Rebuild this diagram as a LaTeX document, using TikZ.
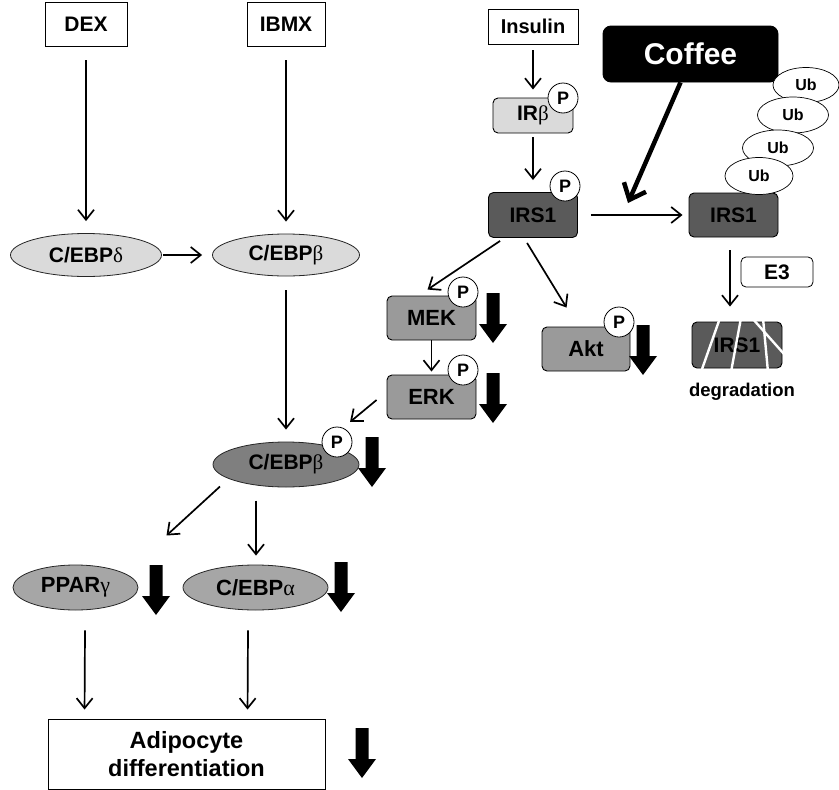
\documentclass[tikz,border=0pt]{standalone}
\usepackage{fontspec}
\setmainfont{Liberation Sans}
\newfontfamily\grk{Liberation Serif}
\usetikzlibrary{shapes.geometric,arrows.meta,calc}
\definecolor{lgray}{HTML}{DADADA}
\definecolor{mgray}{HTML}{A6A6A6}
\definecolor{kgray}{HTML}{9A9A9A}
\definecolor{dgray}{HTML}{7F7F7F}
\definecolor{xgray}{HTML}{5A5A5A}
\begin{document}
\begin{tikzpicture}[x=1pt,y=-1pt,
  box/.style={draw=black, line width=0.9pt, fill=white, inner sep=0pt, font=\fontsize{21}{25}\selectfont\bfseries},
  rbox/.style={box, rounded corners=5pt},
  big/.style={font=\fontsize{22}{26}\selectfont\bfseries},
  ell/.style={ellipse, draw=black!85, line width=0.8pt, inner sep=0pt, font=\fontsize{21}{25}\selectfont\bfseries},
  pc/.style={circle, draw=black, line width=0.8pt, fill=white, minimum size=30pt, inner sep=0pt, font=\fontsize{18}{21}\selectfont\bfseries},
  ub/.style={ellipse, draw=black, line width=0.7pt, fill=white, inner sep=0pt, minimum width=68pt, minimum height=36pt, font=\fontsize{16}{19}\selectfont\bfseries},
  arr/.style={line width=1.7pt, -{Straight Barb[length=10pt,width=16pt]}},
  dn/.pic={\fill[black] (-6.5,0) -- (6.5,0) -- (6.5,31) -- (14,31) -- (0,50) -- (-14,31) -- (-6.5,31) -- cycle;}
]
\useasboundingbox (0,0) rectangle (839,790);

% left column
\node[box, minimum width=82pt, minimum height=44pt] (dex) at (86,24) {DEX};
\node[box, minimum width=78pt, minimum height=44pt] (ibmx) at (286,24) {IBMX};
\node[ell, fill=lgray, minimum width=151pt, minimum height=43pt] (cebpd) at (86,255) {C/EBP{\grk\mdseries δ}};
\node[ell, fill=lgray, minimum width=147pt, minimum height=42pt] (cebpb) at (286,255) {C/EBP{\grk\mdseries β}};
\node[ell, fill=dgray, minimum width=146pt, minimum height=45pt] (cebpbp) at (286,464.5) {C/EBP{\grk\mdseries β}};
\node[pc] (pbp) at (337,442) {P};
\node[ell, big, fill=mgray, minimum width=125pt, minimum height=45pt] (ppar) at (75.5,587.5) {PPAR{\grk\mdseries γ}};
\node[ell, big, fill=mgray, minimum width=145pt, minimum height=45pt] (cebpa) at (255.5,587.5) {C/EBP{\grk\mdseries α}};
\node[box, minimum width=277pt, minimum height=70pt, align=center, font=\fontsize{23.5}{28}\selectfont\bfseries] (adipo) at (186.5,754) {Adipocyte\\differentiation};

% insulin pathway
\node[box, font=\fontsize{20}{24}\selectfont\bfseries, minimum width=90pt, minimum height=35pt] (ins) at (533,26.5) {Insulin};
\node[rbox, fill=lgray, minimum width=80pt, minimum height=35pt] (irb) at (533,115.5) {IR{\grk\mdseries β}};
\node[pc] (pirb) at (563,98) {P};
\node[rbox, fill=xgray, minimum width=89pt, minimum height=45pt] (irs1) at (533,215) {IRS1};
\node[pc] (pirs) at (565,186) {P};
\node[rbox, big, fill=kgray, minimum width=89pt, minimum height=44pt] (mek) at (431.5,318) {MEK};
\node[pc] (pmek) at (463,292) {P};
\node[rbox, big, fill=kgray, minimum width=89pt, minimum height=44pt] (erk) at (431.5,397) {ERK};
\node[pc] (perk) at (463,370) {P};
\node[rbox, big, fill=kgray, minimum width=88pt, minimum height=44pt] (akt) at (586,349) {Akt};
\node[pc] (pakt) at (619,322) {P};

% coffee and ubiquitination
\node[rbox, fill=black, text=white, rounded corners=8pt, minimum width=175pt, minimum height=56pt, font=\fontsize{30}{36}\selectfont\bfseries] (coffee) at (690.5,54) {Coffee};
\node[rbox, fill=xgray, minimum width=89pt, minimum height=44pt] (irs1r) at (733.5,215) {IRS1};
\node[ub, minimum width=66pt, minimum height=35pt] (ub1) at (806,85) {Ub};
\node[ub, minimum width=71pt] (ub2) at (793,115) {Ub};
\node[ub, minimum width=71pt] (ub3) at (778,148) {Ub};
\node[ub, minimum width=68pt, minimum height=37pt] (ub4) at (759,176) {Ub};
\node[rbox, minimum width=72pt, minimum height=30pt, line width=0.8pt] (e3) at (777,272) {E3};
\node[rbox, fill=xgray, minimum width=90pt, minimum height=46pt] (deg) at (737,345) {IRS1};
\draw[white, line width=2.4pt] (701,372) -- (720,318);
\draw[white, line width=2.4pt] (731,372) -- (741,318);
\draw[white, line width=2.4pt] (752,318) -- (784,354);
\draw[white, line width=2.4pt] (763,318) -- (768,372);
\node[font=\fontsize{18.5}{22}\selectfont\bfseries] (degl) at (742,392) {degradation};

% connectors
\draw[arr, shorten <=14pt, shorten >=12pt] (dex) -- (cebpd);
\draw[arr, shorten <=14pt, shorten >=12pt] (ibmx) -- (cebpb);
\draw[arr, shorten <=1pt, shorten >=10pt] (cebpd) -- (cebpb);
\draw[arr, shorten <=14pt, shorten >=12pt] (cebpb) -- (cebpbp);
\draw[arr, shorten <=6pt, shorten >=8pt] (ins) -- (irb);
\draw[arr, shorten <=4pt, shorten >=12pt] (irb) -- (irs1);
\draw[arr, shorten <=13pt, shorten >=6pt] (irs1) -- (irs1r);
\draw[arr] ($(irs1.south west)+(12,3)$) -- ($(mek.north west)+(41,-6)$);
\draw[arr] ($(irs1.south west)+(39,5)$) -- ($(akt.north west)+(25,-19)$);
\draw[arr, shorten >=3pt] (mek) -- (erk);
\draw[arr] ($(erk.west)+(-10,3)$) -- ($(pbp)+(13,-20)$);
\draw[arr] ($(irs1r.south)+(-3.5,13)$) -- ($(deg.north)+(-7,-15)$);
\draw[arr] ($(cebpbp.center)+(-66,22)$) -- ($(ppar.center)+(91,-52)$);
\draw[arr] ($(cebpbp.center)+(-30,36)$) -- ($(cebpa.north)+(0.5,-9)$);
\draw[arr] ($(ppar.south)+(9.5,20)$) -- ($(adipo.north west)+(37,-9)$);
\draw[arr] ($(cebpa.south)+(-7.5,20)$) -- ($(adipo.north west)+(200,-9)$);
\coordinate (ctip) at (628,203);
\draw[line width=4.5pt, -{Straight Barb[length=14pt,width=24pt]}] ($(coffee.south)+(-10,0)$) -- (ctip);

% decrease arrows
\pic at (372,437) {dn};
\pic at (493,293) {dn};
\pic at (493,373) {dn};
\pic at (643,325) {dn};
\pic at (156,565) {dn};
\pic at (341,562) {dn};
\pic at (362,728) {dn};
\end{tikzpicture}
\end{document}
